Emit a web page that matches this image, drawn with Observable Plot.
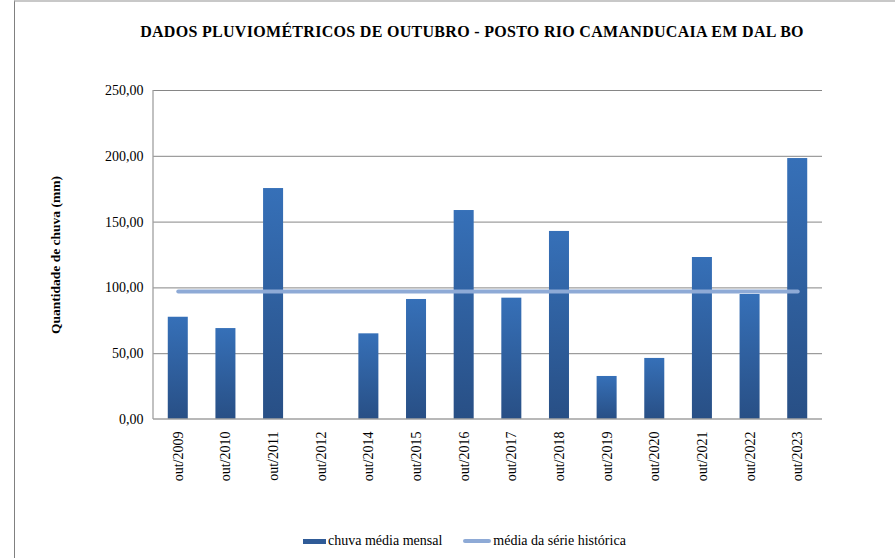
<!DOCTYPE html>
<html>
<head>
<meta charset="utf-8">
<script src="https://cdn.jsdelivr.net/npm/d3@7"></script>
<script src="https://cdn.jsdelivr.net/npm/@observablehq/plot@0.6"></script>
<style>
  html, body { margin: 0; padding: 0; background: #fff; }
  #wrap { position: relative; width: 895px; height: 558px; overflow: hidden; font-family: "Liberation Serif", Tinos, "Times New Roman", Times, "DejaVu Serif", "Noto Serif", serif; color: #000; }
  #border { position: absolute; left: 14px; top: 0; width: 881px; height: 558px; border-left: 1.3px solid #808080; border-top: 2px solid #c8c8c8; box-sizing: border-box; }
  #title { position: absolute; left: 14px; width: 916px; top: 23px; text-align: center; font-weight: bold; font-size: 16px; letter-spacing: 0.3px; }
  #ylabel { position: absolute; left: 56px; top: 255px; transform: translate(-50%, -50%) rotate(-90deg); white-space: nowrap; font-weight: bold; font-size: 13.5px; }
  #chart { position: absolute; left: 0; top: 0; }
  #legend { position: absolute; top: 533px; left: 303px; font-size: 14px; white-space: nowrap; display: flex; align-items: center; }
  .sw { display: inline-block; width: 23px; height: 5px; background: #2f5b97; margin-right: 2px; }
  .ln { display: inline-block; width: 28px; height: 4px; border-radius: 2px; background: #8eaad6; margin-left: 21px; margin-right: 2px; }
</style>
</head>
<body>
<div id="wrap">
  <div id="border"></div>
  <div id="chart"></div>
  <div id="title">DADOS PLUVIOMÉTRICOS DE OUTUBRO - POSTO RIO CAMANDUCAIA EM DAL BO</div>
  <div id="ylabel">Quantidade de chuva (mm)</div>
  <div id="legend"><span class="sw"></span><span>chuva média mensal</span><span class="ln"></span><span>média da série histórica</span></div>
</div>
<script>
const categories = ["out/2009","out/2010","out/2011","out/2012","out/2014","out/2015","out/2016","out/2017","out/2018","out/2019","out/2020","out/2021","out/2022","out/2023"];
const chuvaMensal = [77.7, 69.1, 175.5, 0, 65.1, 91.2, 158.8, 92.2, 142.9, 32.7, 46.4, 123.1, 95.0, 198.3];
const mediaHistorica = [97.3, 97.3, 97.3, 97.3, 97.3, 97.3, 97.3, 97.3, 97.3, 97.3, 97.3, 97.3, 97.3, 97.3];
const yTicks = [0, 50, 100, 150, 200, 250];

const data = categories.map((c, i) => ({cat: c, chuva: chuvaMensal[i], media: mediaHistorica[i]}));
const fmt = d => d.toFixed(2).replace(".", ",");
const serif = '"Liberation Serif", Tinos, "Times New Roman", Times, "DejaVu Serif", "Noto Serif", serif';

const W = 895, H = 520;
const plot = Plot.plot({
  width: W,
  height: H,
  marginLeft: 153,
  marginRight: 73,
  marginTop: 90,
  marginBottom: H - 419,
  style: {fontFamily: serif, fontSize: "14px", color: "#000", background: "transparent", overflow: "visible"},
  x: {domain: categories, paddingInner: 0.58, paddingOuter: 0.31, round: false, label: null},
  y: {domain: [0, 250], label: null},
  marks: [
    Plot.gridY(yTicks.filter(d => d > 0), {stroke: "#868686", strokeOpacity: 1, strokeWidth: 1}),
    Plot.barY(data, {x: "cat", y: "chuva", fill: "url(#barGrad)"}),
    Plot.lineY(data, {x: "cat", y: "media", stroke: "#8eaad6", strokeWidth: 4, strokeLinecap: "round"}),
    Plot.axisY({ticks: yTicks, tickFormat: fmt, tickSize: 0, tickPadding: 10, label: null}),
    Plot.axisX({tickRotate: -90, tickSize: 0, tickPadding: 12, label: null})
  ]
});

const svg = d3.select(plot);
svg.selectAll("text").style("font-family", serif);
const defs = svg.insert("defs", ":first-child");
const g = defs.append("linearGradient").attr("id", "barGrad").attr("x1", 0).attr("y1", 0).attr("x2", 0).attr("y2", 1);
g.append("stop").attr("offset", "0%").attr("stop-color", "#3670b8");
g.append("stop").attr("offset", "100%").attr("stop-color", "#284f85");

const xs = plot.scale("x"), ys = plot.scale("y");
const xr = xs.range, yr = ys.range;
svg.append("line").attr("x1", xr[0]).attr("x2", xr[1]).attr("y1", yr[0]).attr("y2", yr[0]).attr("stroke", "#a0a0a0").attr("stroke-width", 1.3);
svg.append("line").attr("x1", xr[0]).attr("x2", xr[0]).attr("y1", yr[0]).attr("y2", yr[1]).attr("stroke", "#a0a0a0").attr("stroke-width", 1.3);

document.getElementById("chart").appendChild(plot);
</script>
</body>
</html>
